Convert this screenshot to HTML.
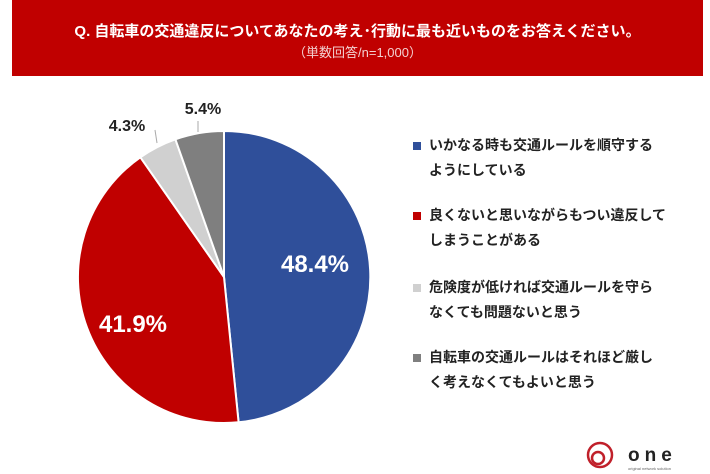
<!DOCTYPE html><html><head><meta charset="utf-8"><style>
body{margin:0;width:710px;height:474px;background:#fff;overflow:hidden;font-family:"Liberation Sans","Noto Sans CJK JP",sans-serif;position:relative}
.ban{position:absolute;left:12px;top:0;width:691px;height:76px;background:#c00000;color:#fff;text-align:center}
.t1{position:absolute;top:20px;width:100%;font-size:15px;font-weight:bold}
.t2{position:absolute;top:42px;width:100%;font-size:13px;color:#f3d0d0}
.lg{position:absolute;left:413px;font-size:14px;font-weight:bold;color:#222;line-height:25px}
.lg i{position:absolute;left:0;top:9px;width:8px;height:8px}
.lg span{display:block;padding-left:16px}
</style></head><body>
<div class="ban"><div class="t1">Q. 自転車の交通違反についてあなたの考え･行動に最も近いものをお答えください。</div><div class="t2">（単数回答/n=1,000）</div></div>
<svg width="710" height="474" style="position:absolute;left:0;top:0">
<path d="M224,277 L224,131 A146,146 0 0 1 238.6,422.3Z" fill="#2f4f9a" stroke="#fff" stroke-width="2"/>
<path d="M224,277 L238.6,422.3 A146,146 0 0 1 140.4,157.3Z" fill="#c00000" stroke="#fff" stroke-width="2"/>
<path d="M224,277 L140.4,157.3 A146,146 0 0 1 175.4,139.3Z" fill="#d0d0d0" stroke="#fff" stroke-width="2"/>
<path d="M224,277 L175.4,139.3 A146,146 0 0 1 224,131Z" fill="#7f7f7f" stroke="#fff" stroke-width="2"/>
<polyline points="155,130 157,143" stroke="#aaa" fill="none"/>
<polyline points="198,121 198,132" stroke="#aaa" fill="none"/>
<g font-weight="bold" font-family="Liberation Sans,sans-serif">
<text x="315" y="272" fill="#fff" font-size="24" text-anchor="middle">48.4%</text>
<text x="133" y="332" fill="#fff" font-size="24" text-anchor="middle">41.9%</text>
<text x="127" y="131" fill="#222" font-size="16" text-anchor="middle">4.3%</text>
<text x="203" y="114" fill="#222" font-size="16" text-anchor="middle">5.4%</text>
</g>
<g transform="translate(600,455)">
<circle r="12" fill="none" stroke="#c0202a" stroke-width="2.5"/>
<circle cx="-2" cy="3" r="6" fill="none" stroke="#c0202a" stroke-width="2.5"/>
</g>
<text x="628" y="461" font-size="19" font-weight="bold" fill="#222" letter-spacing="5" font-family="Liberation Sans,sans-serif">one</text>
<text x="628" y="470" font-size="4" fill="#666" font-family="Liberation Sans,sans-serif">original network solution</text>
</svg>
<div class="lg" style="top:133px"><i style="background:#2f4f9a"></i><span>いかなる時も交通ルールを順守する<br>ようにしている</span></div>
<div class="lg" style="top:203px"><i style="background:#c00000"></i><span>良くないと思いながらもつい違反して<br>しまうことがある</span></div>
<div class="lg" style="top:275px"><i style="background:#d0d0d0"></i><span>危険度が低ければ交通ルールを守ら<br>なくても問題ないと思う</span></div>
<div class="lg" style="top:345px"><i style="background:#7f7f7f"></i><span>自転車の交通ルールはそれほど厳し<br>く考えなくてもよいと思う</span></div>
</body></html>
